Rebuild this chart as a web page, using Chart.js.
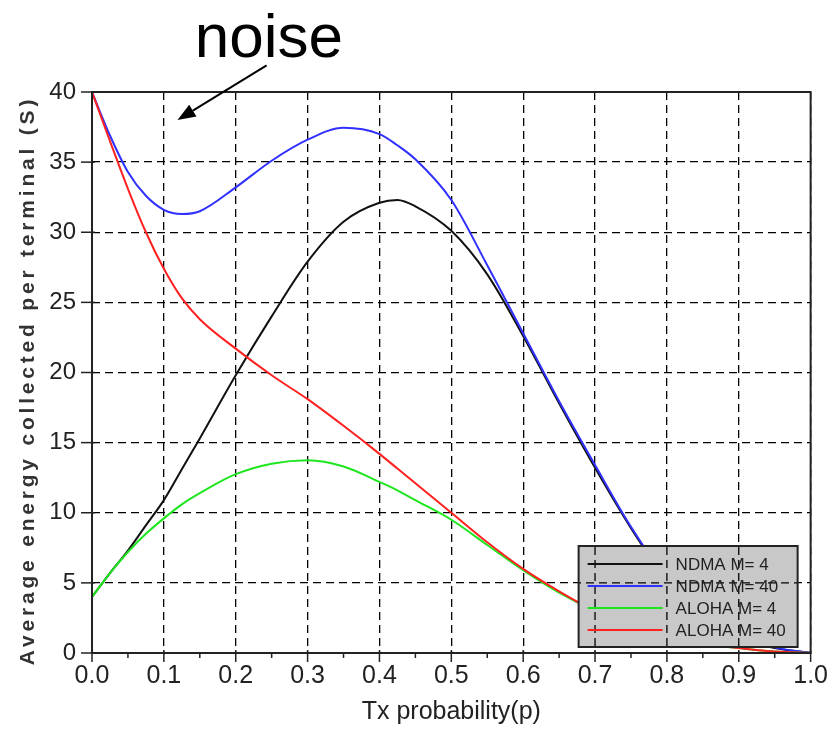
<!DOCTYPE html>
<html><head><meta charset="utf-8">
<script src="https://cdn.jsdelivr.net/npm/chart.js@4.4.1/dist/chart.umd.min.js"></script>
<style>html,body{margin:0;padding:0;background:#fff;}canvas{display:block}</style>
</head><body>
<canvas id="c" width="836" height="732"></canvas>
<script>
// ---- data ----
const pValues  = [0, 0.025, 0.05, 0.075, 0.1, 0.125, 0.15, 0.2, 0.25, 0.3, 0.35, 0.4, 0.425, 0.45, 0.5, 0.55, 0.6, 0.65, 0.7, 0.75, 0.8, 0.85, 0.9, 0.95, 1.0];
const ndmaM4   = [4, 5.7, 7.3, 9.1, 10.9, 13.1, 15.3, 19.8, 24.0, 27.9, 30.75, 32.1, 32.3, 31.85, 30.1, 27.0, 22.6, 17.8, 13.2, 8.9, 5.2, 2.7, 1.1, 0.35, 0];
const ndmaM40  = [40, 36.9, 34.3, 32.6, 31.6, 31.3, 31.5, 33.2, 35.1, 36.6, 37.45, 37.0, 36.2, 35.2, 32.3, 27.65, 22.8, 17.95, 13.4, 9.0, 5.3, 2.8, 1.2, 0.4, 0];
const alohaM4  = [4, 5.7, 7.2, 8.5, 9.6, 10.6, 11.4, 12.75, 13.5, 13.75, 13.3, 12.2, 11.6, 10.9, 9.5, 7.7, 5.9, 4.3, 3.0, 2.0, 1.2, 0.7, 0.35, 0.1, 0];
const alohaM40 = [40, 36.5, 33.1, 30.0, 27.4, 25.3, 23.8, 21.7, 19.8, 18.1, 16.2, 14.2, 13.15, 12.1, 10.0, 7.9, 6.0, 4.4, 3.0, 2.0, 1.2, 0.7, 0.35, 0.1, 0];
const seriesLabels = ['NDMA M= 4', 'NDMA M= 40', 'ALOHA M= 4', 'ALOHA M= 40'];
const xTitle = 'Tx probability(p)';
const yTitle = 'Average energy collected per terminal (S)';
const noteText = 'noise';
// annotation anchor points in data units (p, S)
const noteTip = [0.119, 38.0];
const noteTail = [0.243, 41.9];
const noteLabelAt = [0.246, 42.5];

const FONT = "'Liberation Sans', Arial, Helvetica, sans-serif";
const toXY = arr => pValues.map((p, i) => ({x: p, y: arr[i]}));

const seriesColors = ['#111111', '#3030ff', '#1ee61e', '#ff2020'];
const seriesData = [ndmaM4, ndmaM40, alohaM4, alohaM40];
const drawOrder = [4, 3, 2, 1];

const decorPlugin = {
  id: 'decor',
  afterDatasetsDraw(chart) {
    const {ctx, chartArea: a, scales: {x, y}} = chart;
    // legend box
    const bx = a.right - 232, by = a.bottom - 107, bw = 219, bh = 101;
    ctx.save();
    ctx.fillStyle = '#c8c8c8';
    ctx.fillRect(bx, by, bw, bh);
    // grid re-drawn over legend
    ctx.save();
    ctx.beginPath(); ctx.rect(bx, by, bw, bh); ctx.clip();
    ctx.strokeStyle = '#000'; ctx.lineWidth = 1.3; ctx.setLineDash([8, 5]);
    x.ticks.forEach(t => { const px = x.getPixelForValue(t.value); ctx.beginPath(); ctx.moveTo(px, a.top); ctx.lineTo(px, a.bottom); ctx.stroke(); });
    y.ticks.forEach(t => { const py = y.getPixelForValue(t.value); ctx.beginPath(); ctx.moveTo(a.left, py); ctx.lineTo(a.right, py); ctx.stroke(); });
    ctx.restore();
    ctx.strokeStyle = '#222'; ctx.lineWidth = 2; ctx.setLineDash([]);
    ctx.strokeRect(bx, by, bw, bh);
    chart.data.datasets.forEach((ds, i) => {
      const ly = by + 18 + i * 22;
      ctx.strokeStyle = ds.borderColor; ctx.lineWidth = 2;
      ctx.beginPath(); ctx.moveTo(bx + 9, ly); ctx.lineTo(bx + 84, ly); ctx.stroke();
      ctx.fillStyle = '#222'; ctx.font = '17px ' + FONT; ctx.textBaseline = 'middle'; ctx.textAlign = 'left';
      ctx.fillText(ds.label, bx + 97, ly + 1);
    });
    // frame
    ctx.strokeStyle = '#222'; ctx.lineWidth = 2;
    ctx.strokeRect(a.left, a.top, a.right - a.left, a.bottom - a.top);
    // tick marks
    ctx.lineWidth = 1.5;
    x.ticks.forEach((t, i) => {
      const px = x.getPixelForValue(t.value);
      ctx.beginPath(); ctx.moveTo(px, a.bottom - 3); ctx.lineTo(px, a.bottom + 9); ctx.stroke();
      if (i < x.ticks.length - 1) {
        const mx = x.getPixelForValue((t.value + x.ticks[i + 1].value) / 2);
        ctx.beginPath(); ctx.moveTo(mx, a.bottom); ctx.lineTo(mx, a.bottom + 5); ctx.stroke();
      }
    });
    y.ticks.forEach(t => {
      const py = y.getPixelForValue(t.value);
      ctx.beginPath(); ctx.moveTo(a.left - 11, py); ctx.lineTo(a.left + 3, py); ctx.stroke();
    });
    ctx.restore();
  },
  afterDraw(chart) {
    const {ctx, chartArea: a, scales: {x, y}} = chart;
    ctx.save();
    // y axis title
    ctx.translate(28, (a.top + a.bottom) / 2 + 8);
    ctx.rotate(-Math.PI / 2);
    ctx.font = 'bold 21px ' + FONT;
    if ('letterSpacing' in ctx) ctx.letterSpacing = '3.8px';
    ctx.fillStyle = '#333'; ctx.textAlign = 'center'; ctx.textBaseline = 'middle';
    ctx.fillText(yTitle, 0, 0);
    ctx.restore();
    // noise annotation
    ctx.save();
    const tx = x.getPixelForValue(noteTip[0]), ty = y.getPixelForValue(noteTip[1]);
    const sx = x.getPixelForValue(noteTail[0]), sy = y.getPixelForValue(noteTail[1]);
    const ang = Math.atan2(ty - sy, tx - sx);
    const hl = 18, hw = 7;
    const bxp = tx - hl * Math.cos(ang), byp = ty - hl * Math.sin(ang);
    ctx.strokeStyle = '#000'; ctx.fillStyle = '#000'; ctx.lineWidth = 2;
    ctx.beginPath(); ctx.moveTo(sx, sy); ctx.lineTo(bxp, byp); ctx.stroke();
    ctx.beginPath();
    ctx.moveTo(tx, ty);
    ctx.lineTo(bxp + hw * Math.sin(ang), byp - hw * Math.cos(ang));
    ctx.lineTo(bxp - hw * Math.sin(ang), byp + hw * Math.cos(ang));
    ctx.closePath(); ctx.fill();
    ctx.font = '62px ' + FONT; ctx.textAlign = 'center'; ctx.textBaseline = 'alphabetic';
    ctx.fillText(noteText, x.getPixelForValue(noteLabelAt[0]), y.getPixelForValue(noteLabelAt[1]));
    ctx.restore();
  }
};

new Chart(document.getElementById('c'), {
  type: 'line',
  data: {
    datasets: seriesLabels.map((lab, i) => ({
      label: lab,
      data: toXY(seriesData[i]),
      borderColor: seriesColors[i],
      backgroundColor: seriesColors[i],
      borderWidth: 2,
      pointRadius: 0,
      fill: false,
      cubicInterpolationMode: 'monotone',
      order: drawOrder[i]
    }))
  },
  options: {
    responsive: false,
    animation: false,
    devicePixelRatio: 1,
    layout: {padding: {top: 92, right: 18, left: 0, bottom: 0}},
    plugins: {legend: {display: false}, tooltip: {enabled: false}},
    scales: {
      x: {
        type: 'linear', min: 0, max: 1,
        ticks: {stepSize: 0.1, callback: v => Number(v).toFixed(1), font: {family: FONT, size: 25}, color: '#222', padding: 8, maxRotation: 0, autoSkip: false},
        grid: {color: '#000', lineWidth: 1.3, drawTicks: false},
        border: {display: false, dash: [8, 5]},
        title: {display: true, text: xTitle, font: {family: FONT, size: 25}, color: '#222', padding: {top: 0, bottom: 5}},
        afterFit: s => { s.height = 79; }
      },
      y: {
        min: 0, max: 40,
        ticks: {stepSize: 5, font: {family: FONT, size: 24}, color: '#222', padding: 16},
        grid: {color: '#000', lineWidth: 1.3, drawTicks: false},
        border: {display: false, dash: [8, 5]},
        afterFit: s => { s.width = 92; }
      }
    }
  },
  plugins: [decorPlugin]
});
</script>
</body></html>
